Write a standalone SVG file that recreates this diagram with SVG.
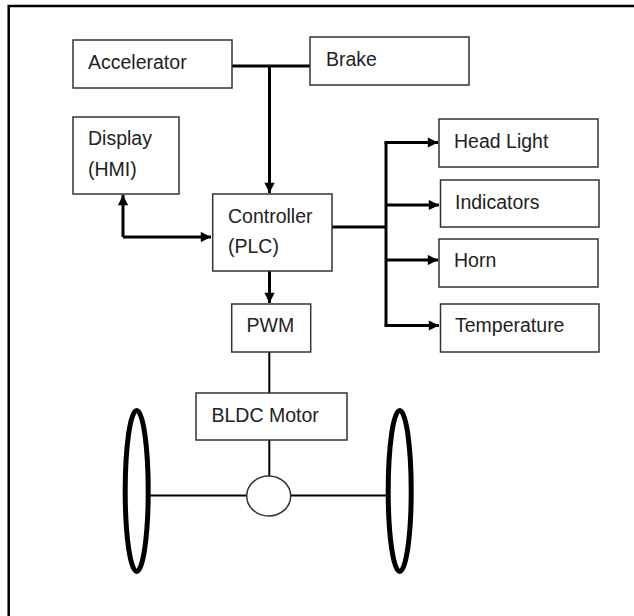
<svg xmlns="http://www.w3.org/2000/svg" width="634" height="616" viewBox="0 0 634 616">
<defs>
<style>
.box{fill:#fff;stroke:#333;stroke-width:1.5}
.lbl{font-family:"Liberation Sans",Arial,sans-serif;font-size:19.5px;fill:#222}
.conn{fill:none;stroke:#000;stroke-width:3}
.thin{fill:none;stroke:#000;stroke-width:2}
.wheel{fill:none;stroke:#000;stroke-width:5}
</style>
<marker id="ah" viewBox="0 0 10 10" refX="10" refY="5" markerWidth="4" markerHeight="3.4" markerUnits="strokeWidth" orient="auto">
<path d="M0,0 L10,5 L0,10 z" fill="#000"/>
</marker>
</defs>
<rect width="634" height="616" fill="#fff"/>
<g id="frame">
<path d="M8.7,616 L8.7,6 L634,6" fill="none" stroke="#000" stroke-width="2.5"/>
</g>
<g id="connectors">
<path class="conn" d="M232,66 L310,66"/>
<path class="conn" d="M269.5,66 L269.5,193" marker-end="url(#ah)"/>
<path class="conn" d="M123,237 L211,237" marker-end="url(#ah)"/>
<path class="conn" d="M123,237 L123,195" marker-end="url(#ah)"/>
<path class="conn" d="M269.5,271 L269.5,303" marker-end="url(#ah)"/>
<path class="conn" d="M332,227 L386,227"/>
<path class="conn" d="M386,142.5 L386,325.5"/>
<path class="conn" d="M384.5,142.5 L438,142.5" marker-end="url(#ah)"/>
<path class="conn" d="M386,205 L439,205" marker-end="url(#ah)"/>
<path class="conn" d="M386,260 L438,260" marker-end="url(#ah)"/>
<path class="conn" d="M384.5,325.5 L439,325.5" marker-end="url(#ah)"/>
<path class="thin" d="M269.3,352 L269.3,393"/>
<path class="thin" d="M269.3,440 L269.3,476"/>
<path class="thin" d="M149,495.5 L247,495.5"/>
<path class="thin" d="M290.5,495.5 L387,495.5"/>
</g>
<g id="accelerator">
<rect class="box" x="73" y="40" width="159" height="48"/>
<text class="lbl" x="88" y="69">Accelerator</text>
</g>
<g id="brake">
<rect class="box" x="310" y="37" width="159" height="48"/>
<text class="lbl" x="326" y="66">Brake</text>
</g>
<g id="display">
<rect class="box" x="73" y="117" width="106" height="77"/>
<text class="lbl" x="88" y="145">Display</text>
<text class="lbl" x="88" y="176">(HMI)</text>
</g>
<g id="controller">
<rect class="box" x="212.7" y="194" width="119.3" height="77"/>
<text class="lbl" x="228" y="223">Controller</text>
<text class="lbl" x="228" y="253">(PLC)</text>
</g>
<g id="headlight">
<rect class="box" x="439" y="119" width="159" height="48"/>
<text class="lbl" x="454" y="148">Head Light</text>
</g>
<g id="indicators">
<rect class="box" x="440.5" y="180" width="158.5" height="47"/>
<text class="lbl" x="455" y="209">Indicators</text>
</g>
<g id="horn">
<rect class="box" x="439" y="239" width="159" height="48"/>
<text class="lbl" x="454" y="267">Horn</text>
</g>
<g id="temperature">
<rect class="box" x="440.5" y="304" width="158.5" height="48"/>
<text class="lbl" x="455" y="332">Temperature</text>
</g>
<g id="pwm">
<rect class="box" x="231.7" y="304" width="79" height="48"/>
<text class="lbl" x="246.5" y="332">PWM</text>
</g>
<g id="bldc">
<rect class="box" x="196" y="393" width="151" height="47"/>
<text class="lbl" x="211.5" y="422">BLDC Motor</text>
</g>
<g id="differential">
<ellipse cx="268.7" cy="496" rx="22" ry="20" fill="#fff" stroke="#333" stroke-width="1.5"/>
</g>
<g id="wheel-left">
<ellipse class="wheel" cx="136.7" cy="491" rx="11.5" ry="80.5"/>
</g>
<g id="wheel-right">
<ellipse class="wheel" cx="399.7" cy="491" rx="11.5" ry="80.5"/>
</g>
</svg>
